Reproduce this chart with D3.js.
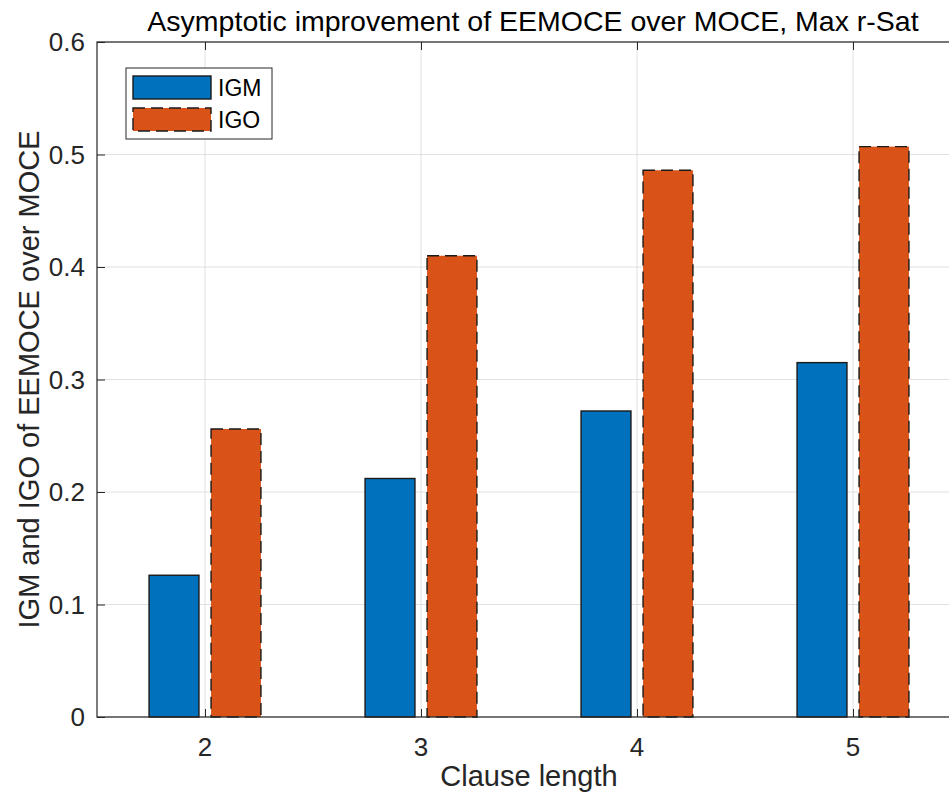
<!DOCTYPE html>
<html>
<head>
<meta charset="utf-8">
<script src="https://cdn.jsdelivr.net/npm/d3@7"></script>
<style>
  html, body { margin: 0; padding: 0; background: #fff; }
  svg { display: block; font-family: "Liberation Sans", Arial, Helvetica, sans-serif; }
</style>
</head>
<body>
<svg id="chart" width="949" height="801"></svg>
<script>
// Clause lengths and the two improvement measures per length
const clauseLengths = [2, 3, 4, 5];
const igm = [0.126, 0.212, 0.272, 0.315];
const igo = [0.256, 0.410, 0.486, 0.507];
const yTicks = [0, 0.1, 0.2, 0.3, 0.4, 0.5, 0.6];
const seriesNames = ["IGM", "IGO"];

const W = 949, H = 801;
const plot = { left: 97, right: 961, top: 42, bottom: 717 };
const axisColor = "#262626";
const gridColor = "#e0e0e0";
const colors = ["#0072BD", "#D95319"];

const svg = d3.select("#chart");

const x = d3.scaleLinear().domain([1.5, 5.5]).range([plot.left, plot.right]);
const y = d3.scaleLinear().domain([0, 0.6]).range([plot.bottom, plot.top]);

// grid
const grid = svg.append("g");
grid.selectAll("line.v").data(clauseLengths).join("line")
  .attr("x1", d => x(d)).attr("x2", d => x(d))
  .attr("y1", plot.top).attr("y2", plot.bottom)
  .attr("stroke", gridColor).attr("stroke-width", 1);
grid.selectAll("line.h").data(yTicks).join("line")
  .attr("x1", plot.left).attr("x2", plot.right)
  .attr("y1", d => y(d)).attr("y2", d => y(d))
  .attr("stroke", gridColor).attr("stroke-width", 1);

// bars: each series sits on one side of the category tick
const barW = 0.231, halfGap = 0.028;
const series = [
  { name: seriesNames[0], values: igm, x0: -halfGap - barW, dash: null },
  { name: seriesNames[1], values: igo, x0: halfGap, dash: "12,6" }
];
series.forEach((s, i) => {
  svg.append("g").selectAll("rect").data(s.values).join("rect")
    .attr("x", (v, j) => x(clauseLengths[j] + s.x0))
    .attr("width", x(barW) - x(0))
    .attr("y", v => y(v))
    .attr("height", v => y(0) - y(v))
    .attr("fill", colors[i])
    .attr("stroke", "#1a1a1a")
    .attr("stroke-width", 1.4)
    .attr("stroke-dasharray", s.dash);
});

// axes box and inward ticks
const tickLen = 8;
const yAxis = d3.axisRight(y).tickValues(yTicks).tickSize(tickLen).tickFormat("");
svg.append("g").attr("transform", `translate(${plot.left},0)`).call(yAxis)
  .call(g => g.selectAll("line,path").attr("stroke", axisColor))
  .call(g => g.select(".domain").remove());
const xAxisB = d3.axisTop(x).tickValues(clauseLengths).tickSize(tickLen).tickFormat("");
svg.append("g").attr("transform", `translate(0,${plot.bottom})`).call(xAxisB)
  .call(g => g.selectAll("line").attr("stroke", axisColor))
  .call(g => g.select(".domain").remove());
const xAxisT = d3.axisBottom(x).tickValues(clauseLengths).tickSize(tickLen).tickFormat("");
svg.append("g").attr("transform", `translate(0,${plot.top})`).call(xAxisT)
  .call(g => g.selectAll("line").attr("stroke", axisColor))
  .call(g => g.select(".domain").remove());

svg.append("rect")
  .attr("x", plot.left).attr("y", plot.top)
  .attr("width", plot.right - plot.left).attr("height", plot.bottom - plot.top)
  .attr("fill", "none").attr("stroke", axisColor).attr("stroke-width", 1.2);

// tick labels
svg.append("g").selectAll("text").data(yTicks).join("text")
  .attr("x", plot.left - 12).attr("y", d => y(d))
  .attr("dy", "0.36em")
  .attr("text-anchor", "end")
  .attr("font-size", 26).attr("fill", axisColor)
  .text(d => d === 0 ? "0" : d3.format(".1f")(d));
svg.append("g").selectAll("text").data(clauseLengths).join("text")
  .attr("x", d => x(d)).attr("y", plot.bottom + 39)
  .attr("text-anchor", "middle")
  .attr("font-size", 26).attr("fill", axisColor)
  .text(d => d);

// axis titles and chart title
const cx = (plot.left + plot.right) / 2;
svg.append("text").attr("x", cx).attr("y", 786)
  .attr("text-anchor", "middle").attr("font-size", 29).attr("fill", axisColor)
  .text("Clause length");
svg.append("text")
  .attr("transform", `translate(39,${(plot.top + plot.bottom) / 2}) rotate(-90)`)
  .attr("text-anchor", "middle").attr("font-size", 29).attr("fill", axisColor)
  .text("IGM and IGO of EEMOCE over MOCE");
svg.append("text").attr("x", cx + 4).attr("y", 31)
  .attr("text-anchor", "middle").attr("font-size", 28.5).attr("fill", "#000")
  .text("Asymptotic improvement of EEMOCE over MOCE, Max r-Sat");

// legend
const lg = svg.append("g");
lg.append("rect").attr("x", 126).attr("y", 68).attr("width", 146).attr("height", 71)
  .attr("fill", "#fff").attr("stroke", axisColor).attr("stroke-width", 1);
series.forEach((s, i) => {
  const top = 76 + i * 32;
  lg.append("rect").attr("x", 133).attr("y", top).attr("width", 78).attr("height", 23)
    .attr("fill", colors[i]).attr("stroke", "#1a1a1a").attr("stroke-width", 1.4)
    .attr("stroke-dasharray", s.dash);
  lg.append("text").attr("x", 218).attr("y", top + 11.5).attr("dy", "0.36em")
    .attr("font-size", 23).attr("fill", "#000").text(s.name);
});
</script>
</body>
</html>
